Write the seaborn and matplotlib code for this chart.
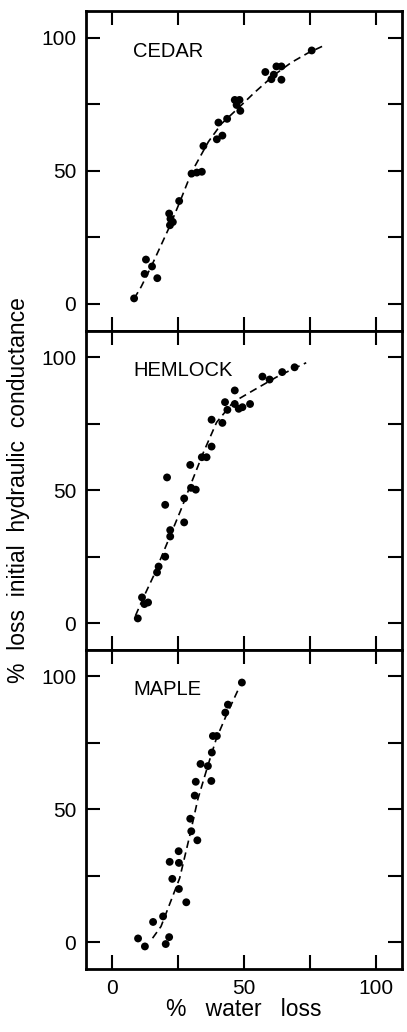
import numpy as np
import pandas as pd
import matplotlib
matplotlib.use("Agg")
import matplotlib.pyplot as plt
import seaborn as sns

# species panels, top to bottom
species = ["CEDAR", "HEMLOCK", "MAPLE"]

# measured points (% water loss, % loss of conductance)
cedar_x = [8.3, 12.8, 12.3, 15.1, 17.1, 21.6, 21.9, 23.0, 22.1, 25.4, 30.1, 32.1, 34.0, 34.6,
           39.7, 41.8, 40.3, 43.6, 46.5, 48.3, 47.2, 48.6, 58.1, 60.4, 61.3, 62.3, 64.2, 64.2, 75.7]
cedar_y = [2.1, 16.7, 11.3, 14.1, 9.7, 34.0, 29.6, 30.8, 32.0, 38.7, 49.0, 49.4, 49.7, 59.4,
           61.9, 63.3, 68.2, 69.6, 76.7, 76.7, 74.8, 72.6, 87.2, 84.5, 86.2, 89.3, 89.3, 84.3, 95.3]

hemlock_x = [9.7, 11.3, 12.2, 13.6, 17.0, 17.6, 20.1, 20.1, 20.8, 22.0, 22.0, 27.3, 27.3, 29.6,
             29.9, 31.7, 34.0, 35.8, 37.7, 37.7, 41.8, 42.8, 43.7, 46.5, 46.5, 48.0, 49.4, 52.3,
             57.0, 59.7, 64.5, 69.2]
hemlock_y = [1.8, 9.7, 7.2, 7.8, 19.1, 21.3, 25.0, 44.5, 54.8, 35.0, 32.6, 37.9, 46.9, 59.5,
             50.9, 50.2, 62.4, 62.4, 66.4, 76.5, 75.3, 83.1, 80.2, 87.5, 82.4, 80.6, 81.2, 82.4,
             92.7, 91.6, 94.4, 96.2]

maple_x = [9.8, 12.4, 15.5, 19.3, 20.3, 21.6, 21.8, 22.8, 25.2, 25.3, 25.3, 28.1, 29.6, 30.0,
           32.3, 31.3, 31.7, 33.5, 36.3, 37.6, 37.8, 38.2, 39.7, 42.9, 43.9, 49.2]
maple_y = [1.5, -1.5, 7.7, 9.8, -0.6, 2.0, 30.3, 23.9, 34.3, 29.9, 20.1, 15.1, 46.5, 41.8,
           38.4, 55.2, 60.4, 67.1, 66.3, 60.7, 71.4, 77.6, 77.6, 86.4, 89.4, 97.7]

# fitted curves
cedar_cx = [8.3, 11.0, 15.0, 21.4, 25.5, 30.2, 36.5, 41.5, 47.8, 54.0, 61.6, 68.0, 74.2, 81.1]
cedar_cy = [2.0, 6.5, 14.5, 28.3, 38.0, 49.7, 61.0, 67.8, 73.6, 79.5, 86.2, 90.8, 94.3, 97.5]

hemlock_cx = [8.8, 12.0, 15.7, 22.0, 26.0, 29.6, 34.6, 39.6, 45.9, 53.5, 62.3, 68.6, 73.6]
hemlock_cy = [2.8, 10.0, 17.8, 32.9, 42.5, 51.7, 64.2, 75.5, 83.1, 87.5, 92.5, 95.6, 97.9]

maple_cx = [15.3, 18.5, 21.2, 25.6, 29.4, 32.5, 36.3, 39.5, 43.3, 48.3]
maple_cy = [1.6, 6.0, 12.9, 24.2, 40.1, 53.9, 66.5, 76.6, 85.4, 96.1]

points = [(cedar_x, cedar_y), (hemlock_x, hemlock_y), (maple_x, maple_y)]
curves = [(cedar_cx, cedar_cy), (hemlock_cx, hemlock_cy), (maple_cx, maple_cy)]

x_ticks = [0, 25, 50, 75, 100]
x_labels = ["0", "", "50", "", "100"]
y_ticks = [0, 25, 50, 75, 100]
y_labels = ["0", "", "50", "", "100"]

sns.set_style("ticks")
plt.rcParams["font.family"] = ["Liberation Sans", "DejaVu Sans"]
plt.rcParams["text.color"] = "black"
plt.rcParams["axes.labelcolor"] = "black"
plt.rcParams["xtick.color"] = "black"
plt.rcParams["ytick.color"] = "black"

fig, axes = plt.subplots(3, 1, figsize=(4.07, 10.32), dpi=100, sharex=True)
fig.subplots_adjust(left=0.211, right=0.988, top=0.989, bottom=0.061, hspace=0)

for ax, name, (px, py), (cx, cy) in zip(axes, species, points, curves):
    pts = pd.DataFrame({"water": px, "cond": py})
    crv = pd.DataFrame({"water": cx, "cond": cy})
    sns.lineplot(data=crv, x="water", y="cond", ax=ax, color="black", lw=1.2,
                 linestyle=(0, (4.5, 2.8)), sort=False, estimator=None)
    sns.scatterplot(data=pts, x="water", y="cond", ax=ax, color="black", s=32,
                    edgecolor="none", zorder=3)
    ax.set_xlim(-10, 110)
    ax.set_ylim(-10, 110)
    ax.set_yticks(y_ticks)
    ax.set_yticklabels(y_labels)
    ax.set_xticks(x_ticks)
    ax.set_xticklabels(x_labels)
    ax.tick_params(direction="in", length=10, width=1.5, top=True, right=True,
                   labelsize=15, pad=7, colors="black")
    for sp in ax.spines.values():
        sp.set_visible(True)
        sp.set_linewidth(2)
        sp.set_color("black")
    ax.text(8, 95, name, fontsize=14.5, ha="left", va="center", color="black")
    ax.set_xlabel("")
    ax.set_ylabel("")

axes[1].set_ylabel("%  loss  initial  hydraulic  conductance", fontsize=16.5, labelpad=8)
axes[2].set_xlabel("%   water   loss", fontsize=16.5, labelpad=0)

fig.savefig("out.png", dpi=100)
